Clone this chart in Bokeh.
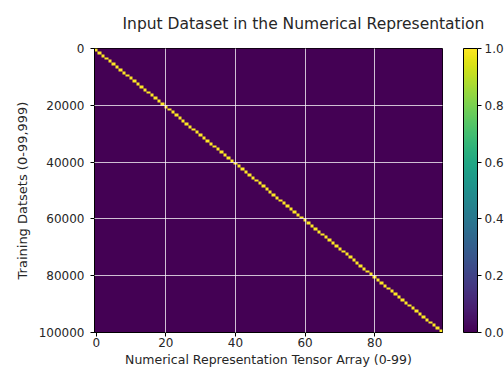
import numpy as np
from bokeh.plotting import figure
from bokeh.models import (Range1d, LinearColorMapper, ColorBar, FixedTicker,
                          Title, BasicTickFormatter, PrintfTickFormatter)
from bokeh.palettes import Viridis256
from bokeh.embed import file_html
from bokeh.resources import INLINE

# data: one-hot rows, 100 classes, 1000 training rows per class (rows 0-99,999)
n_rows = 100000
n_cols = 100
block_start_rows = list(range(0, 100000, 1000))   # first row of each class block
hot_columns = list(range(100))                   # column that holds the 1 for each block
x_ticks = [0, 20, 40, 60, 80]
y_ticks = [0, 20000, 40000, 60000, 80000, 100000]
cbar_ticks = [0.0, 0.2, 0.4, 0.6, 0.8, 1.0]

rows_per_block = block_start_rows[1] - block_start_rows[0]
img = np.zeros((len(block_start_rows), n_cols))
for r, c in enumerate(hot_columns):
    img[r, c] = 1.0

FONT = "DejaVu Sans"
TXT = "#262626"

p = figure(frame_width=348, frame_height=284, output_backend="svg",
           toolbar_location=None, min_border_left=94, min_border_top=47,
           min_border_bottom=43, min_border_right=10,
           x_range=Range1d(-0.5, n_cols - 0.5), y_range=Range1d(n_rows, 0))
p.title = None
p.add_layout(Title(text="Input Dataset in the Numerical Representation",
                   text_font=FONT, text_font_size="15.5px", text_font_style="normal",
                   text_color=TXT, align="left", offset=28, standoff=28,
                   vertical_align="top"), "above")

mapper = LinearColorMapper(palette=Viridis256, low=0, high=1)
p.image(image=[img], x=-0.5, y=0, dw=n_cols, dh=len(block_start_rows) * rows_per_block,
        color_mapper=mapper)

for ax in (p.xaxis[0], p.yaxis[0]):
    ax.major_label_text_font = FONT
    ax.major_label_text_font_size = "12px"
    ax.major_label_text_color = TXT
    ax.axis_label_text_font = FONT
    ax.axis_label_text_font_size = "12.5px"
    ax.axis_label_text_font_style = "normal"
    ax.axis_label_text_color = TXT
    ax.major_tick_in = 0
    ax.major_tick_out = 4
    ax.minor_tick_line_color = None
    ax.axis_line_color = "black"
    ax.major_tick_line_color = "black"
    ax.axis_label_standoff = 2

p.xaxis.major_label_standoff = 1
p.yaxis.major_label_standoff = 6
p.xaxis.ticker = FixedTicker(ticks=x_ticks)
p.yaxis.ticker = FixedTicker(ticks=y_ticks)
p.yaxis.formatter = BasicTickFormatter(use_scientific=False)
p.xaxis.axis_label = "Numerical Representation Tensor Array (0-99)"
p.yaxis.axis_label = "Training Datsets (0-99,999)"
p.yaxis.axis_label_text_font_size = "13px"
p.yaxis.major_label_orientation = "horizontal"
p.yaxis.axis_label_standoff = 6

p.xgrid.ticker = FixedTicker(ticks=x_ticks[1:])
p.ygrid.ticker = FixedTicker(ticks=y_ticks[1:-1])
p.grid.grid_line_color = "white"
p.grid.grid_line_alpha = 0.75
p.grid.grid_line_width = 1
p.xgrid.level = "overlay"
p.ygrid.level = "overlay"

p.outline_line_color = "black"
p.outline_line_alpha = 1

cb = ColorBar(color_mapper=mapper, width=14, height=284, padding=0, margin=0,
              ticker=FixedTicker(ticks=cbar_ticks),
              formatter=PrintfTickFormatter(format="%.1f"),
              major_label_text_font=FONT, major_label_text_font_size="12px",
              major_label_text_color=TXT, major_tick_in=0, major_tick_out=4,
              major_tick_line_color="black", bar_line_color="black",
              label_standoff=3, minor_tick_line_color=None,
              location=(21, 0))
p.add_layout(cb, "right")

p.background_fill_color = "white"
p.border_fill_color = "white"

open("out.html", "w").write(file_html(p, INLINE))
